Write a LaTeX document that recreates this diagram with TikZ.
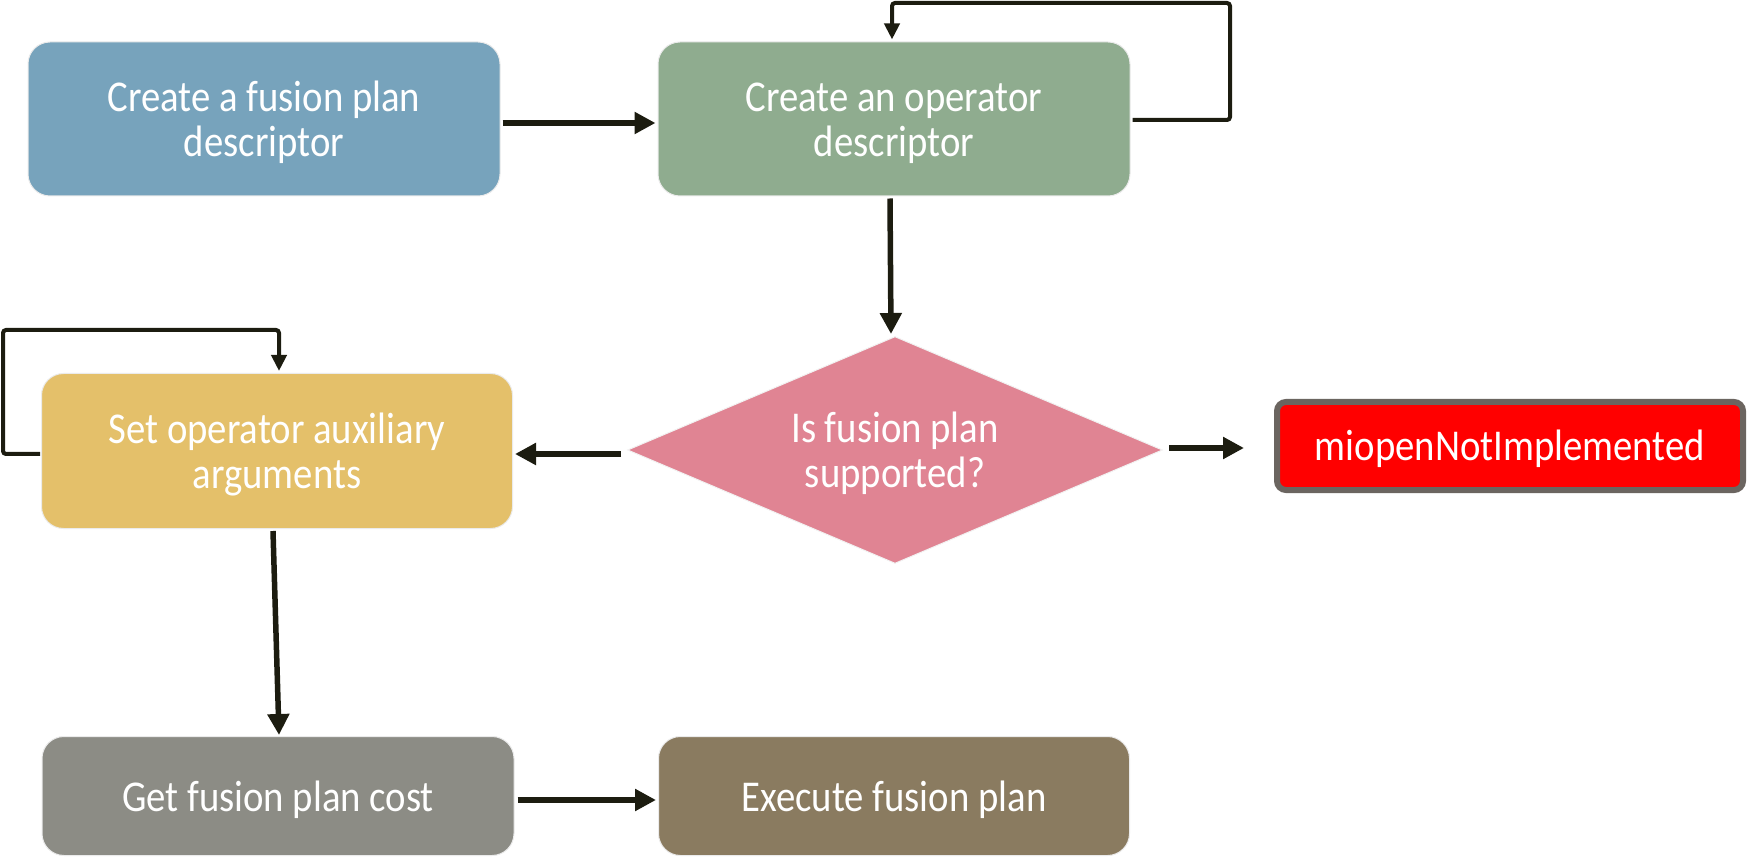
\documentclass[tikz,border=0pt]{standalone}
\usepackage{fontspec}
\setmainfont[FakeStretch=0.88]{Carlito}
\usetikzlibrary{shapes.geometric,arrows.meta}
\definecolor{cblue}{HTML}{77A3BC}
\definecolor{cgreen}{HTML}{8FAC8F}
\definecolor{cpink}{HTML}{E08493}
\definecolor{cyellow}{HTML}{E4C06A}
\definecolor{cgray}{HTML}{8C8C85}
\definecolor{cbrown}{HTML}{8A7B60}
\definecolor{cred}{HTML}{FF0000}
\definecolor{credborder}{HTML}{6B6560}
\definecolor{carrow}{HTML}{1C1C10}
\newcommand{\lowtxt}[1]{\raisebox{-6pt}[\height][\depth]{\begin{tabular}{@{}c@{}}#1\end{tabular}}}
\begin{document}
\begin{tikzpicture}[x=1pt,y=-1pt,
  stepbox/.style={rectangle, rounded corners=22pt, draw=black!8, line width=1pt,
    text=white, inner sep=0pt,
    font=\fontsize{44}{45}\selectfont},
  bigarrow/.style={draw=carrow, line width=5.5pt, -{Triangle[length=21pt,width=21pt]}},
  looparrow/.style={draw=carrow, line width=4pt, rounded corners=3pt, -{Triangle[length=16pt,width=15pt]}}]
\useasboundingbox (0,0) rectangle (1749,858);
\node[stepbox, fill=cblue, minimum width=472pt, minimum height=154pt] (b1) at (264,119) {\lowtxt{Create a fusion plan\\descriptor}};
\node[stepbox, fill=cgreen, minimum width=472pt, minimum height=154pt] (b2) at (894,119) {\lowtxt{Create an operator\\descriptor}};
\node[diamond, fill=cpink, draw=black!5, line width=1pt, text=white, inner sep=0pt,
  minimum width=535pt, minimum height=227pt, aspect=2.36,
  font=\fontsize{44}{45}\selectfont] (d) at (895,450) {\lowtxt{Is fusion plan\\supported?}};
\node[stepbox, fill=cyellow, minimum width=471pt, minimum height=155pt] (b3) at (277,451) {\lowtxt{Set operator auxiliary\\arguments}};
\node[rectangle, rounded corners=9pt, fill=cred, draw=credborder, line width=6pt, text=white,
  inner sep=0pt, minimum width=466pt, minimum height=88pt,
  font=\fontsize{44}{45}\selectfont] (red) at (1510,446) {\lowtxt{miopenNotImplemented}};
\node[stepbox, fill=cgray, minimum width=472pt, minimum height=119pt] (b4) at (278,796) {\lowtxt{Get fusion plan cost}};
\node[stepbox, fill=cbrown, minimum width=471pt, minimum height=119pt] (b5) at (894,796) {\lowtxt{Execute fusion plan}};
% connectors
\draw[bigarrow] ([xshift=2pt,yshift=-4pt]b1.east) -- ([xshift=-2pt,yshift=-4pt]b2.west);
\coordinate (l1a) at (1230,120);
\coordinate (l1b) at (1230,3);
\coordinate (l1c) at (892,3);
\draw[looparrow] ([xshift=2pt,yshift=-1pt]b2.east) -- (l1a) -- (l1b) -- (l1c) -- ([yshift=2pt]b2.north -| l1c);
\draw[bigarrow] ([xshift=-4pt,yshift=-2pt]b2.south) -- ([xshift=-4pt,yshift=2pt]d.north);
\coordinate (y1) at (0,454);
\draw[bigarrow] ([xshift=-6pt]d.west |- y1) -- ([xshift=2pt]b3.east |- y1);
\coordinate (y2) at (0,448);
\draw[bigarrow] ([xshift=6pt]d.east |- y2) -- ([xshift=-30pt]red.west |- y2);
\coordinate (l2a) at (3,454);
\coordinate (l2b) at (3,330);
\coordinate (l2c) at (279,330);
\draw[looparrow] ([xshift=-1pt,yshift=-3pt]b3.west) -- (l2a) -- (l2b) -- (l2c) -- ([yshift=2pt]b3.north -| l2c);
\draw[bigarrow] ([xshift=-4pt,yshift=-2pt]b3.south) -- ([xshift=1pt,yshift=1pt]b4.north);
\draw[bigarrow] ([xshift=3pt,yshift=-4pt]b4.east) -- ([xshift=-2pt,yshift=-4pt]b5.west);
\end{tikzpicture}
\end{document}
